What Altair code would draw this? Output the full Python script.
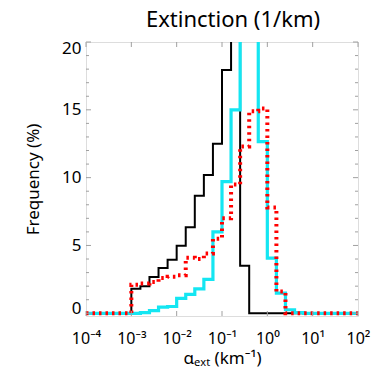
import altair as alt
import pandas as pd

# bin left edges (log10 of extinction, km^-1), bins of 0.2 decade
bin_left_exp = [-4.0, -3.8, -3.6, -3.4, -3.2, -3.0, -2.8, -2.6, -2.4, -2.2,
                -2.0, -1.8, -1.6, -1.4, -1.2, -1.0, -0.8, -0.6, -0.4, -0.2,
                0.0, 0.2, 0.4, 0.6, 0.8, 1.0, 1.2, 1.4, 1.6, 1.8]
last_edge_exp = 2.0

black = [0, 0, 0, 0, 0, 1.8, 2.0, 2.67, 3.33, 3.94,
         4.97, 6.35, 8.66, 10.2, 12.49, 17.94, 22.1, 3.5, 0, 0,
         0, 0, 0, 0, 0, 0, 0, 0, 0, 0]
cyan = [0, 0, 0, 0, 0, 0, 0.05, 0.2, 0.45, 0.5,
        1.1, 1.4, 1.8, 2.5, 6.0, 9.7, 15.0, 21.0, 20.8, 12.66,
        4.07, 1.49, 0.26, 0.05, 0, 0, 0, 0, 0, 0]
red = [0, 0, 0, 0, 0, 2.1, 2.2, 2.3, 2.6, 2.7,
       2.8, 4.1, 4.0, 4.4, 5.5, 7.0, 9.5, 12.3, 14.9, 15.1,
       7.8, 1.6, 0, 0, 0, 0, 0, 0, 0, 0]

x_tick_values = [1e-4, 1e-3, 1e-2, 1e-1, 1e0, 1e1, 1e2]
y_major = [0, 5, 10, 15, 20]
y_minor = [1, 2, 3, 4, 6, 7, 8, 9, 11, 12, 13, 14, 16, 17, 18, 19]

W, H = 272, 274
FONT = "Noto Sans"
FRAME = "#a0a0a0"


def steps(vals):
    xs = [10 ** e for e in bin_left_exp] + [10 ** last_edge_exp]
    ys = list(vals) + [vals[-1]]
    return pd.DataFrame({"x": xs, "y": ys, "o": list(range(len(xs)))})


xscale = alt.Scale(type="log", domain=[1e-4, 1e2], nice=False)
yscale = alt.Scale(domain=[-0.2, 20], nice=False, zero=False)

label_expr = ("'10' + ['⁻⁴','⁻³','⁻²','⁻¹','⁰','¹','²']"
              "[round(log(datum.value)/LN10) + 4]")

xenc = alt.X("x:Q", scale=xscale,
             axis=alt.Axis(values=x_tick_values, labelExpr=label_expr,
                           ticks=False, domain=False, grid=False,
                           labelFontSize=16, labelFont=FONT, labelColor="black",
                           labelPadding=14, labelFlush=False,
                           title="αₑₓₜ (km⁻¹)", titleFont=FONT, titleFontSize=17,
                           titleFontWeight="normal", titleColor="black",
                           titlePadding=4))
yenc = alt.Y("y:Q", scale=yscale,
             axis=alt.Axis(values=y_major, ticks=False, domain=False, grid=False,
                           labelFontSize=17, labelFont=FONT, labelColor="black",
                           labelPadding=5, labelFlush=False,
                           labelBaseline={"condition": [
                               {"test": "datum.value == 0", "value": "alphabetic"}],
                               "value": "middle"},
                           labelOffset={"condition": [
                               {"test": "datum.value == 20", "value": 6}],
                               "value": 0},
                           title="Frequency (%)", titleFont=FONT, titleFontSize=17,
                           titleFontWeight="normal", titleColor="black",
                           titlePadding=19))


def line_layer(vals, **kw):
    return alt.Chart(steps(vals)).mark_line(interpolate="step-after", clip=True, **kw).encode(
        x=xenc, y=yenc, order="o:Q")


black_l = line_layer(black, color="black", strokeWidth=2)
cyan_l = line_layer(cyan, color="#14e6f2", strokeWidth=3.2)
red_l = line_layer(red, color="#ff0000", strokeWidth=4, strokeDash=[2.5, 4])

xt = pd.DataFrame({"x": x_tick_values})
ymaj = pd.DataFrame({"y": y_major})
ymin = pd.DataFrame({"y": y_minor})

tick_kw = dict(color=FRAME, strokeWidth=1)
xb = alt.Chart(xt).mark_rule(**tick_kw).encode(
    x=alt.X("x:Q", scale=xscale), y=alt.value(H), y2=alt.value(H - 5))
xtop = alt.Chart(xt).mark_rule(**tick_kw).encode(
    x=alt.X("x:Q", scale=xscale), y=alt.value(0), y2=alt.value(5))
yl = alt.Chart(ymaj).mark_rule(**tick_kw).encode(
    y=alt.Y("y:Q", scale=yscale), x=alt.value(0), x2=alt.value(5))
yr = alt.Chart(ymaj).mark_rule(**tick_kw).encode(
    y=alt.Y("y:Q", scale=yscale), x=alt.value(W), x2=alt.value(W - 5))
yl2 = alt.Chart(ymin).mark_rule(**tick_kw).encode(
    y=alt.Y("y:Q", scale=yscale), x=alt.value(0), x2=alt.value(3))
yr2 = alt.Chart(ymin).mark_rule(**tick_kw).encode(
    y=alt.Y("y:Q", scale=yscale), x=alt.value(W), x2=alt.value(W - 3))

chart = alt.layer(black_l, cyan_l, red_l, xb, xtop, yl, yr, yl2, yr2).properties(
    width=W, height=H,
    title=alt.TitleParams("Extinction (1/km)", font=FONT, fontSize=22,
                          fontWeight="normal", color="black", anchor="middle",
                          dx=11, baseline="bottom", offset=-15),
    autosize=alt.AutoSizeParams(type="none"),
    padding={"left": 86, "top": 42, "right": 27, "bottom": 59},
).configure_view(stroke=FRAME, strokeWidth=1.2).configure(background="white")

chart.save("out.html", embed_options={"renderer": "svg", "actions": False})
